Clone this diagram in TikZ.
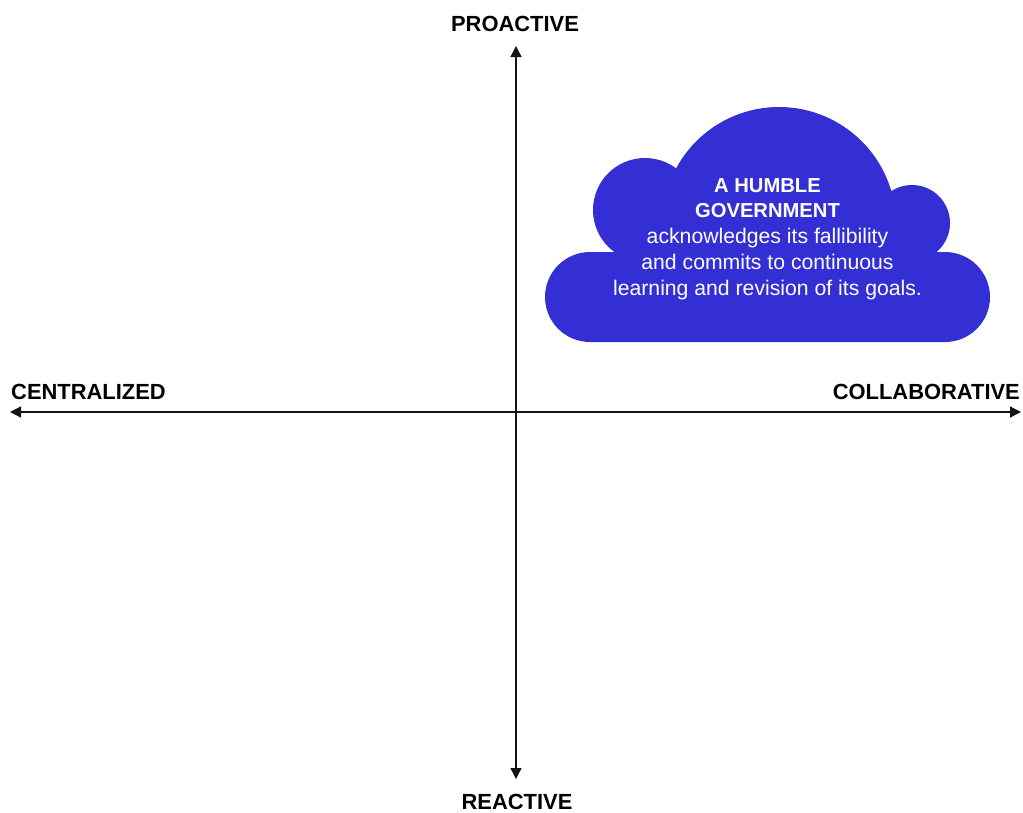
\documentclass[tikz,border=0pt]{standalone}
\usepackage{fontspec}
\setmainfont{Liberation Sans}
\usetikzlibrary{arrows.meta}
\definecolor{cloudblue}{RGB}{52,46,213}
\definecolor{axisgray}{RGB}{20,20,20}
\tikzset{
  axislabel/.style={font=\fontsize{21.9}{26}\selectfont\bfseries, text=black, inner sep=0pt},
  axisline/.style={line width=1.3pt, draw=axisgray, -{Triangle[length=11pt,width=11pt]}},
  cloudpart/.style={fill=cloudblue, draw=none},
}
\begin{document}
\begin{tikzpicture}[x=1pt,y=-1pt]
\path[use as bounding box, fill=white] (0,0) rectangle (1023,812);

% axes
\coordinate (origin) at (516,412);
\coordinate (top) at (516,46);
\coordinate (bottom) at (516,779);
\coordinate (left) at (10,412);
\coordinate (right) at (1021,412);
\draw[axisline] (origin) -- (top);
\draw[axisline] (origin) -- (bottom);
\draw[axisline] (origin) -- (left);
\draw[axisline] (origin) -- (right);

% axis labels
\node[axislabel, anchor=base] (proactive) at (515,31) {PROACTIVE};
\node[axislabel, anchor=base] (reactive) at (517,809) {REACTIVE};
\node[axislabel, anchor=base west] (centralized) at (11,399) {CENTRALIZED};
\node[axislabel, anchor=base east] (collaborative) at (1020,399) {COLLABORATIVE};

% cloud
\fill[cloudpart] (779,224) circle[radius=117];
\fill[cloudpart] (645,210) circle[radius=52];
\fill[cloudpart] (912,223) circle[radius=38];
\fill[cloudpart, rounded corners=45] (545,252) rectangle (990,342);

\node[anchor=base, align=center, text=white, inner sep=0pt,
      font=\fontsize{21.2}{25.7}\selectfont] (cloudtext) at (767.5,295)
  {{\bfseries\fontsize{20.2}{25.7}\selectfont A HUMBLE}\\
   {\bfseries\fontsize{20.2}{25.7}\selectfont GOVERNMENT}\\
   acknowledges its fallibility\\
   and commits to continuous\\
   learning and revision of its goals.};
\end{tikzpicture}
\end{document}
